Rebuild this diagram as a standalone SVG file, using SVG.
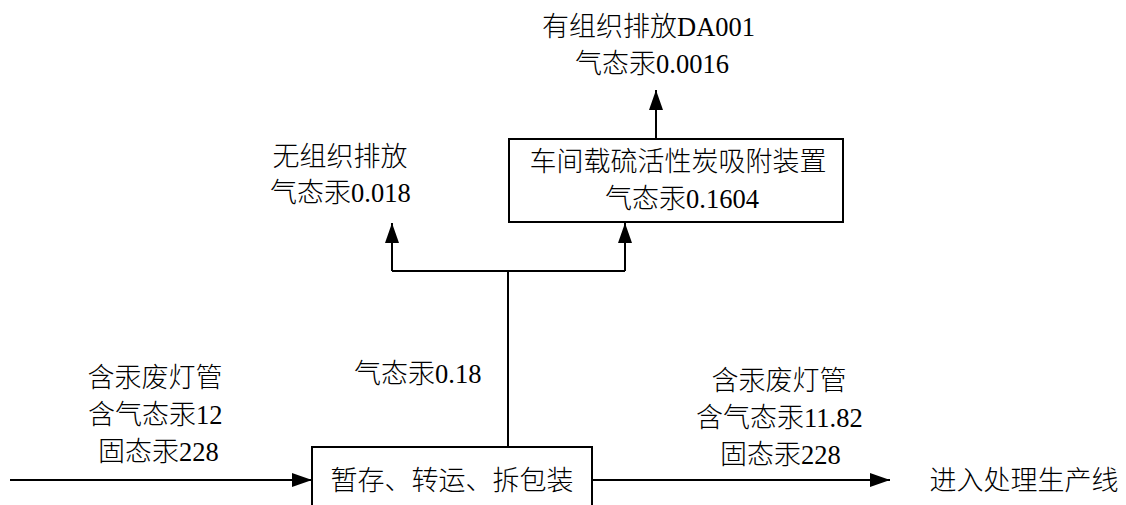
<svg xmlns="http://www.w3.org/2000/svg" width="1126" height="505" viewBox="0 0 1126 505">
<style>
text{font-family:"Noto Sans CJK SC",sans-serif;font-size:27px;font-weight:300;fill:#000;text-anchor:middle}
text.c{text-anchor:end}
text.n{font-family:"Liberation Serif",serif;font-size:26.5px;font-weight:400;text-anchor:start}
.box{fill:#fff;stroke:#000;stroke-width:2}
.ln{fill:none;stroke:#000;stroke-width:2}
</style>
<defs>
<marker id="ah" viewBox="0 0 20 14" refX="20" refY="7" markerWidth="20" markerHeight="14" markerUnits="userSpaceOnUse" orient="auto">
<path d="M0,0 L20,7 L0,14 Z" fill="#000"/>
</marker>
</defs>
<rect width="1126" height="505" fill="#fff"/>
<g id="connectors">
<path class="ln" d="M508,447 V271"/>
<path class="ln" d="M392,271 H625"/>
<path class="ln" d="M392,271 V223" marker-end="url(#ah)"/>
<path class="ln" d="M625,271 V223" marker-end="url(#ah)"/>
<path class="ln" d="M656,139 V90" marker-end="url(#ah)"/>
<path class="ln" d="M10,480 H312" marker-end="url(#ah)"/>
<path class="ln" d="M592,480 H890" marker-end="url(#ah)"/>
</g>
<g id="organized">
<text class="c" x="677" y="36">有组织排放</text>
<text class="n" x="677" y="36">DA001</text>
<text class="c" x="656" y="73">气态汞</text>
<text class="n" x="656" y="73">0.0016</text>
</g>
<g id="adsorber">
<rect class="box" x="509" y="139" width="334" height="83"/>
<text x="678" y="171">车间载硫活性炭吸附装置</text>
<text class="c" x="686" y="208">气态汞</text>
<text class="n" x="686" y="208">0.1604</text>
</g>
<g id="fugitive">
<text x="340" y="166">无组织排放</text>
<text class="c" x="351" y="202">气态汞</text>
<text class="n" x="351" y="202">0.018</text>
</g>
<g id="gas-label">
<text class="c" x="435" y="383">气态汞</text>
<text class="n" x="435" y="383">0.18</text>
</g>
<g id="input-label">
<text x="155" y="387">含汞废灯管</text>
<text class="c" x="196" y="424">含气态汞</text>
<text class="n" x="196" y="424">12</text>
<text class="c" x="179" y="461">固态汞</text>
<text class="n" x="179" y="461">228</text>
</g>
<g id="storage">
<rect class="box" x="312" y="447" width="280" height="80"/>
<text x="452" y="490">暂存、转运、拆包装</text>
</g>
<g id="output-label">
<text x="779" y="390">含汞废灯管</text>
<text class="c" x="804" y="427">含气态汞</text>
<text class="n" x="804" y="427">11.82</text>
<text class="c" x="801" y="464">固态汞</text>
<text class="n" x="801" y="464">228</text>
</g>
<g id="production">
<text x="1024" y="490">进入处理生产线</text>
</g>
</svg>
